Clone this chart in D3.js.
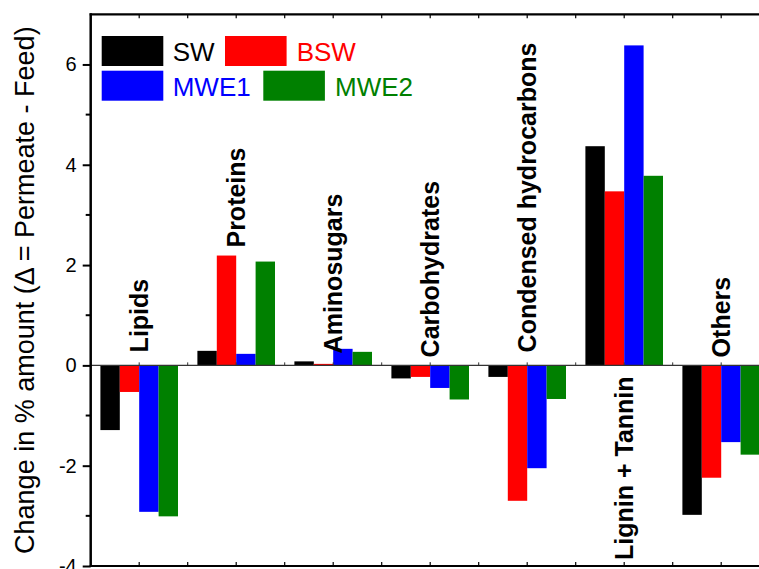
<!DOCTYPE html>
<html>
<head>
<meta charset="utf-8">
<script src="https://cdn.jsdelivr.net/npm/d3@7"></script>
<style>
  html, body { margin: 0; padding: 0; background: #fff; }
  svg { display: block; font-family: Arial, "Liberation Sans", sans-serif; }
</style>
</head>
<body>
<svg id="chart" width="759" height="569"></svg>
<script>
// Compound classes along the x axis
const categories = ["Lipids", "Proteins", "Aminosugars", "Carbohydrates",
                    "Condensed hydrocarbons", "Lignin + Tannin", "Others"];
// Sample series shown in the legend
const seriesNames = ["SW", "BSW", "MWE1", "MWE2"];
const seriesColors = ["#000000", "#ff0000", "#0000ff", "#008000"];
// Change in % amount (permeate minus feed) per class
const swValues   = [-1.29, 0.29, 0.08, -0.26, -0.23, 4.37, -2.98];
const bswValues  = [-0.53, 2.19, 0.03, -0.23, -2.70, 3.47, -2.24];
const mwe1Values = [-2.92, 0.23, 0.33, -0.45, -2.05, 6.38, -1.53];
const mwe2Values = [-3.01, 2.07, 0.27, -0.68, -0.67, 3.78, -1.78];
// Y axis ticks
const yMajorTicks = [-4, -2, 0, 2, 4, 6];
const yMinorTicks = [-3, -1, 1, 3, 5];

const seriesValues = [swValues, bswValues, mwe1Values, mwe2Values];
const rows = categories.map((c, i) => ({
  category: c,
  values: seriesNames.map((s, j) => ({ series: s, value: seriesValues[j][i], color: seriesColors[j] }))
}));

const W = 759, H = 569;
const plotLeft = 90.7, plotRight = 769.7, plotTop = 14.3, plotBottom = 566;

const svg = d3.select("#chart");

const x = d3.scaleBand().domain(categories).range([plotLeft, plotRight])
  .paddingInner(0.2).paddingOuter(0.1);
const xs = d3.scaleBand().domain(seriesNames).range([0, x.bandwidth()]);
const y = d3.scaleLinear().domain([-4, 7]).range([plotBottom, plotTop]);

// Bars
const groups = svg.append("g").selectAll("g").data(rows).join("g")
  .attr("transform", d => `translate(${x(d.category)},0)`);
groups.selectAll("rect").data(d => d.values).join("rect")
  .attr("x", d => xs(d.series))
  .attr("width", xs.bandwidth())
  .attr("y", d => y(Math.max(0, d.value)))
  .attr("height", d => Math.abs(y(d.value) - y(0)))
  .attr("fill", d => d.color);

// Tick positions shared by the horizontal axes: band centres and band boundaries
const step = x.step();
const hTicks = d3.range(1, 14).map(k => plotLeft + k * step / 2);

// Zero line with small ticks
svg.append("line").attr("x1", plotLeft).attr("x2", W).attr("y1", y(0)).attr("y2", y(0))
  .attr("stroke", "#333").attr("stroke-width", 1.4);
svg.append("g").selectAll("line").data(hTicks).join("line")
  .attr("x1", d => d).attr("x2", d => d)
  .attr("y1", y(0)).attr("y2", y(0) - 3)
  .attr("stroke", "#333").attr("stroke-width", 1);

// Top and bottom frame lines with inward ticks
[[plotTop, 1], [plotBottom, -1]].forEach(([yy, dir]) => {
  svg.append("line").attr("x1", plotLeft - 1).attr("x2", W).attr("y1", yy).attr("y2", yy)
    .attr("stroke", "#000").attr("stroke-width", 2.2);
  svg.append("g").selectAll("line").data(hTicks).join("line")
    .attr("x1", d => d).attr("x2", d => d)
    .attr("y1", yy).attr("y2", yy + dir * 4)
    .attr("stroke", "#000").attr("stroke-width", 1.2);
});

// Left axis (plain hyphen for negative numbers)
const yAxis = d3.axisLeft(y).tickValues(yMajorTicks).tickFormat(d => String(d))
  .tickSize(8).tickPadding(6);
const ga = svg.append("g").attr("transform", `translate(${plotLeft},0)`).call(yAxis);
ga.select(".domain").remove();
ga.selectAll(".tick line").attr("stroke", "#000").attr("stroke-width", 2);
ga.selectAll(".tick text").attr("font-size", 20).attr("fill", "#000")
  .attr("font-family", "Arial, 'Liberation Sans', sans-serif");
svg.append("g").selectAll("line").data(yMinorTicks).join("line")
  .attr("x1", plotLeft - 5).attr("x2", plotLeft).attr("y1", d => y(d)).attr("y2", d => y(d))
  .attr("stroke", "#000").attr("stroke-width", 2);
svg.append("line").attr("x1", plotLeft).attr("x2", plotLeft).attr("y1", plotTop - 1).attr("y2", plotBottom + 1)
  .attr("stroke", "#000").attr("stroke-width", 2.5);

// Y axis title
svg.append("text")
  .attr("transform", `translate(34,${(plotTop + plotBottom) / 2}) rotate(-90)`)
  .attr("text-anchor", "middle")
  .attr("font-size", 27)
  .text("Change in % amount (\u0394 = Permeate - Feed)");

// Category labels, rotated; lift is the gap in pixels above the tallest positive bar
const labelLift = [13, 8, 12, 8, 13, 0, 8];
svg.append("g").selectAll("text").data(rows).join("text")
  .attr("transform", (d, i) => {
    const cx = x(d.category) + x.bandwidth() / 2 + 9;
    const maxPos = d3.max(d.values, v => v.value);
    if (d.category === "Lignin + Tannin") {
      return `translate(${cx},${plotBottom - 6}) rotate(-90)`;
    }
    const base = maxPos > 0.6 ? y(maxPos) : y(0);
    return `translate(${cx},${base - labelLift[i]}) rotate(-90)`;
  })
  .attr("font-size", 25)
  .attr("font-weight", "bold")
  .attr("text-anchor", "start")
  .text(d => d.category);

// Legend
const legendItems = [
  { name: "SW", color: seriesColors[0], sx: 101.7, ty: 36, tx: 172.7 },
  { name: "BSW", color: seriesColors[1], sx: 225, ty: 36, tx: 296.7 },
  { name: "MWE1", color: seriesColors[2], sx: 101.7, ty: 70.7, tx: 172.7 },
  { name: "MWE2", color: seriesColors[3], sx: 263.3, ty: 70.7, tx: 335 }
];
const lg = svg.append("g").selectAll("g").data(legendItems).join("g");
lg.append("rect").attr("x", d => d.sx).attr("y", d => d.ty)
  .attr("width", 61.6).attr("height", 30).attr("fill", d => d.color);
lg.append("text").attr("x", d => d.tx).attr("y", d => d.ty + 25)
  .attr("font-size", 26).attr("fill", d => d.color).text(d => d.name);
</script>
</body>
</html>
